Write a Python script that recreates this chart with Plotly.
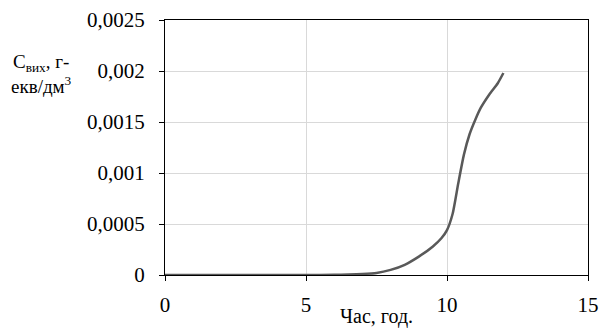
import plotly.graph_objects as go

hours = [0, 1, 2, 3, 4, 5, 6, 6.5, 7, 7.5, 8, 8.5, 9, 9.5, 9.8, 10, 10.2, 10.4, 10.6, 10.8, 11, 11.2, 11.5, 11.8, 12]
conc = [0, 0, 0, 0, 0, 0, 0.000002, 0.000005, 0.00001, 0.00002, 0.00005, 0.0001, 0.00018, 0.00028,
        0.00036, 0.00044, 0.0006, 0.0009, 0.00118, 0.00138, 0.00152, 0.00164, 0.00177, 0.00188, 0.00198]

x_ticks = [0, 5, 10, 15]
x_labels = ["0", "5", "10", "15"]
y_ticks = [0, 0.0005, 0.001, 0.0015, 0.002, 0.0025]
y_labels = ["0", "0,0005", "0,001", "0,0015", "0,002", "0,0025"]

FONT = "Times New Roman, Liberation Serif, DejaVu Serif, serif"

fig = go.Figure()
fig.add_trace(go.Scatter(x=hours, y=conc, mode="lines",
                         line=dict(color="#595959", width=2.5, shape="spline", smoothing=0.6),
                         showlegend=False))

fig.update_layout(
    width=599, height=329,
    margin=dict(l=165, r=11, t=20, b=54),
    paper_bgcolor="white", plot_bgcolor="white",
    font=dict(family=FONT, size=20, color="black"),
    xaxis=dict(range=[0, 15], tickvals=x_ticks, ticktext=x_labels, automargin=False,
               tickfont=dict(family=FONT, size=21, color="black"), ticklabelstandoff=6,
               showgrid=True, gridcolor="#d9d9d9", gridwidth=1,
               showline=True, linecolor="black", linewidth=1.3, mirror=True,
               ticks="outside", ticklen=5, tickcolor="black", zeroline=False),
    yaxis=dict(range=[0, 0.0025], tickvals=y_ticks, ticktext=y_labels, automargin=False,
               tickfont=dict(family=FONT, size=21, color="black"), ticklabelstandoff=10,
               showgrid=True, gridcolor="#d9d9d9", gridwidth=1,
               showline=True, linecolor="black", linewidth=1.3, mirror=True,
               ticks="outside", ticklen=5, tickcolor="black", zeroline=False),
    annotations=[
        dict(text="Час, год.", xref="paper", yref="paper", x=0.5, y=(275 - 316) / 255,
             xanchor="center", yanchor="middle", showarrow=False,
             font=dict(family=FONT, size=20)),
        dict(text="C<sub>вих</sub>, г-<br>екв/дм<sup>3</sup>", xref="paper", yref="paper",
             x=(41 - 165) / 423, y=(275 - 74) / 255, xanchor="center", yanchor="middle",
             showarrow=False, align="center", font=dict(family=FONT, size=19)),
    ],
)

fig.write_html("out.html", config={"displayModeBar": False},
               post_script="document.body.style.margin='0';document.body.style.padding='0';")
